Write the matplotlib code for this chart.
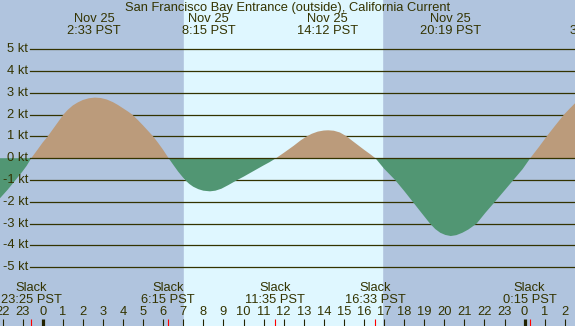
import matplotlib
matplotlib.use("Agg")
import matplotlib.pyplot as plt
import numpy as np

# ---- data (hours relative to midnight Nov 25, knots) ----
times = [-2.13, -1.75, -1.35, -1.0, -0.8, -0.57, -0.25, 0.0, 0.25, 0.5, 0.75, 1.03,
         1.25, 1.5, 1.75, 2.0, 2.3, 2.6, 2.9, 3.2, 3.5, 3.75, 4.0, 4.25, 4.46,
         4.75, 5.0, 5.25, 5.5, 5.75, 6.0, 6.27,
         6.5, 6.75, 7.09, 7.3, 7.5, 7.75, 8.0, 8.33, 8.6, 8.9, 9.25, 9.69, 10.0,
         10.5, 11.0, 11.3, 11.62,
         12.0, 12.5, 12.85, 13.15, 13.4, 13.7, 14.0, 14.22, 14.5, 14.8, 15.14,
         15.4, 15.7, 16.0, 16.3, 16.57,
         17.0, 17.55, 18.0, 18.43, 18.9, 19.29, 19.55, 19.8, 20.05, 20.32, 20.6,
         20.9, 21.2, 21.61, 22.05, 22.52, 23.0, 23.44, 23.9, 24.28,
         24.7, 25.1, 25.5, 25.96, 26.25, 26.51]
speeds = [-1.84, -1.45, -1.0, -0.6, -0.35, 0.0, 0.4, 0.72, 1.0, 1.32, 1.64, 2.0,
          2.22, 2.42, 2.56, 2.67, 2.75, 2.78, 2.76, 2.69, 2.57, 2.44, 2.29, 2.14, 2.0,
          1.74, 1.5, 1.25, 1.0, 0.7, 0.38, 0.0,
          -0.3, -0.62, -1.0, -1.18, -1.31, -1.42, -1.49, -1.52, -1.49, -1.4, -1.23,
          -1.0, -0.85, -0.59, -0.33, -0.18, 0.0,
          0.24, 0.57, 0.82, 1.0, 1.12, 1.22, 1.27, 1.28, 1.26, 1.18, 1.0,
          0.81, 0.6, 0.39, 0.19, 0.0,
          -0.48, -1.0, -1.5, -2.0, -2.55, -3.0, -3.25, -3.42, -3.52, -3.57, -3.53,
          -3.42, -3.27, -3.0, -2.5, -2.0, -1.48, -1.0, -0.5, 0.0,
          0.5, 1.0, 1.47, 2.0, 2.28, 2.52]

max_times = [2.55, 8.25, 14.2, 20.317, 27.6]
max_dates = ["Nov 25", "Nov 25", "Nov 25", "Nov 25", "Nov 26"]
max_labels = ["2:33 PST", "8:15 PST", "14:12 PST", "20:19 PST", "3:36 PST"]

slack_times = [-0.583, 6.25, 11.583, 16.55, 24.25]
slack_labels = ["23:25 PST", "6:15 PST", "11:35 PST", "16:33 PST", "0:15 PST"]

sunrise, sunset = 7.02, 16.9
kt_levels = [5, 4, 3, 2, 1, 0, -1, -2, -3, -4, -5]
hours = list(range(-2, 27))

title = "San Francisco Bay Entrance (outside), California Current"

# ---- style ----
W, H = 575, 326
TXT = "#333300"
NIGHT = "#b0c4de"
DAY = "#dff7ff"
FLOOD = "#bb9b7b"
EBB = "#519673"
FS = 9.3
plt.rcParams['font.family'] = ['Liberation Sans', 'DejaVu Sans']

fig = plt.figure(figsize=(W / 100, H / 100), dpi=100)
ax = fig.add_axes([0, 0, 1, 1])
ax.set_axis_off()

# pixel mapping: x = 42.7 + 20.08*h ; y = 158.2 - 21.8*v
x0, dx = 42.7, 20.08
y0, dy = 158.2, 21.8
ax.set_xlim(-x0 / dx, (W - x0) / dx)
ax.set_ylim((y0 - H) / dy, y0 / dy)

def fy(ypx):
    return 1 - ypx / H

xt = ax.get_xaxis_transform()

ax.axvspan(-10, 40, color=NIGHT, zorder=0)
ax.axvspan(sunrise, sunset, color=DAY, zorder=0.5)

# grid lines
for k in kt_levels:
    if k != 0:
        ax.axhline(k, xmin=30 / W, xmax=1, color=TXT, lw=0.9, zorder=1)
    ax.text(28 / dx - x0 / dx, k, f"{k} kt", ha="right", va="center",
            fontsize=FS, color=TXT, zorder=5)

t = np.array(times)
s = np.array(speeds)
ax.fill_between(t, s, 0, where=s >= 0, interpolate=True, color=FLOOD, lw=0, zorder=2)
ax.fill_between(t, s, 0, where=s <= 0, interpolate=True, color=EBB, lw=0, zorder=2)
ax.axhline(0, xmin=30 / W, xmax=1, color=TXT, lw=0.9, zorder=3)

# title and max labels
ax.text(0.5, fy(7.5), title, transform=ax.transAxes, ha="center", va="center",
        fontsize=FS, color=TXT)
for mt, md, ml in zip(max_times, max_dates, max_labels):
    ax.text(mt, fy(19.5), md, transform=xt, ha="center", va="center",
            fontsize=FS, color=TXT)
    ax.text(mt, fy(31.5), ml, transform=xt, ha="center", va="center",
            fontsize=FS, color=TXT)

# slack labels
for st, sl in zip(slack_times, slack_labels):
    ax.text(st, fy(288), "Slack", transform=xt, ha="center", va="center",
            fontsize=FS, color=TXT)
    ax.text(st, fy(300), sl, transform=xt, ha="center", va="center",
            fontsize=FS, color=TXT)
    ax.plot([st, st], [fy(319), fy(326)], transform=xt, color="#ff0000",
            lw=0.8, solid_capstyle="butt", zorder=6)

# hour ticks and labels
for h in hours:
    ax.text(h, fy(312), str(h % 24), transform=xt, ha="center", va="center",
            fontsize=FS, color=TXT)
    lw = 2.3 if h % 24 == 0 else 0.8
    ax.plot([h, h], [fy(319), fy(326)], transform=xt, color="#222200",
            lw=lw, solid_capstyle="butt", zorder=6)

fig.savefig("out.png", dpi=100)
